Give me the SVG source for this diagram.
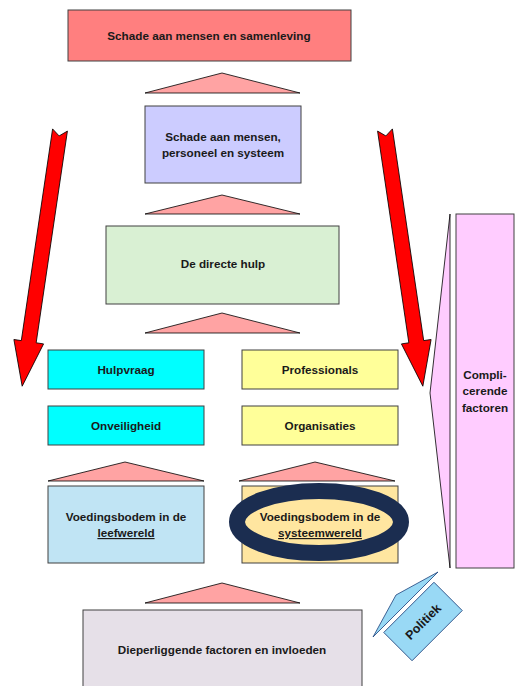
<svg xmlns="http://www.w3.org/2000/svg" width="516" height="686" viewBox="0 0 516 686">
<style>
.box{stroke:#404040;stroke-width:1}
.tri{fill:#FFA3A3;stroke:#000;stroke-width:0.8}
.t{font-family:"Liberation Sans",Arial,sans-serif;font-weight:bold;font-size:11.7px;fill:#1a1a1a;text-anchor:middle}
.arrow{fill:#FF0000;stroke:#000;stroke-width:0.8}
</style>
<rect width="516" height="686" fill="#fff"/>
<g id="connectors">
<polygon class="tri" points="145,93 222,73 300,93"/>
<polygon class="tri" points="145,214 222,195 300,214"/>
<polygon class="tri" points="145,333 222,313 300,333"/>
<polygon class="tri" points="48,481 125,462 204,481"/>
<polygon class="tri" points="239,481 315,462 395,481"/>
<polygon class="tri" points="145,603 222,583 300,603"/>
<g transform="translate(60,130) rotate(8.4)"><polygon class="arrow" points="-7.5,0 0,6 7.5,0 7.5,214 15,214 0,259 -15,214 -7.5,214"/></g>
<g transform="translate(385,130) rotate(-8.4)"><polygon class="arrow" points="-7.5,0 0,6 7.5,0 7.5,214 15,214 0,259 -15,214 -7.5,214"/></g>
</g>
<g id="n1"><rect class="box" x="68" y="10" width="283" height="51" fill="#FF7F7F"/><text class="t" x="209" y="40">Schade aan mensen en samenleving</text></g>
<g id="n2"><rect class="box" x="145" y="106" width="156" height="77" fill="#CCCCFF"/><text class="t" x="223" y="141">Schade aan mensen,</text><text class="t" x="223" y="157">personeel en systeem</text></g>
<g id="n3"><rect class="box" x="106" y="226" width="233" height="78" fill="#D9F0D3"/><text class="t" x="223" y="268">De directe hulp</text></g>
<g id="n4"><rect class="box" x="48" y="350" width="156" height="39" fill="#00FFFF"/><text class="t" x="126" y="374">Hulpvraag</text></g>
<g id="n5"><rect class="box" x="242" y="350" width="156" height="39" fill="#FFFF99"/><text class="t" x="320" y="374">Professionals</text></g>
<g id="n6"><rect class="box" x="48" y="406" width="156" height="39" fill="#00FFFF"/><text class="t" x="126" y="430">Onveiligheid</text></g>
<g id="n7"><rect class="box" x="242" y="406" width="156" height="39" fill="#FFFF99"/><text class="t" x="320" y="430">Organisaties</text></g>
<g id="n8"><rect class="box" x="48" y="486" width="156" height="77" fill="#C0E4F4"/><text class="t" x="126" y="521">Voedingsbodem in de</text><text class="t" x="126" y="537" text-decoration="underline">leefwereld</text></g>
<g id="n9"><rect class="box" x="242" y="486" width="156" height="77" fill="#FFE6A0"/><ellipse cx="319" cy="522" rx="82" ry="31" fill="#FFE6A0" stroke="#1B2D50" stroke-width="16"/><text class="t" x="320" y="521">Voedingsbodem in de</text><text class="t" x="320" y="537" text-decoration="underline">systeemwereld</text></g>
<g id="n10"><rect class="box" x="83" y="610" width="279" height="90" fill="#E6E0E8"/><text class="t" x="222" y="654">Dieperliggende factoren en invloeden</text></g>
<g id="n11"><polygon points="450,214 450,568 430,393" fill="#FFCCFF" stroke="#000" stroke-width="0.8"/><rect class="box" x="456" y="214" width="58" height="354" fill="#FFCCFF"/><text class="t" x="485" y="379">Compli-</text><text class="t" x="485" y="395">cerende</text><text class="t" x="485" y="412">factoren</text></g>
<g id="n12"><polygon points="438,572 396,595 373,637" fill="#99D9F5" stroke="#1B3F7A" stroke-width="0.8"/><g transform="translate(423,621.5) rotate(-45)"><rect x="-35.5" y="-20" width="71" height="40" fill="#99D9F5" stroke="#1B3F7A" stroke-width="0.8"/><text class="t" x="0" y="4.5" style="font-size:12.5px">Politiek</text></g></g>
</svg>
